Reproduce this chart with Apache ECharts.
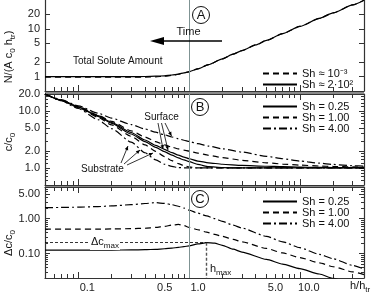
<!DOCTYPE html>
<html><head><meta charset="utf-8">
<script src="https://cdn.jsdelivr.net/npm/echarts@6/dist/echarts.min.js"></script>
<style>html,body{margin:0;padding:0;background:#fff}#c{width:374px;height:298px}</style>
</head><body><div id="c"></div>
<script>
// ---------- data ----------
const X_MIN = 0.05, X_MAX = 38;
const xMajorTicks = [0.1, 1, 10];
const xMinorTicks = [0.06,0.07,0.08,0.09,0.2,0.3,0.4,0.5,0.6,0.7,0.8,0.9,2,3,4,5,6,7,8,9,20,30];
const xLabelValues = [0.1, 0.5, 1, 5, 10];

const yALabels = [1, 2, 5, 10, 20];
const yBLabels = [1, 2, 5, 10, 20];
const yBMinor = [0.6,0.7,0.8,0.9,1.2,1.4,1.6,1.8,3,4,6,7,8,9,12,14,16,18];
const yCLabels = [0.1, 1, 5];
const yCMinor = [0.03,0.04,0.05,0.06,0.07,0.08,0.09,0.2,0.3,0.4,0.5,0.6,0.7,0.8,0.9,2,3,4,6,7,8];

// Panel A: total solute amount
const hA = [0.05,0.1,0.2,0.3,0.4,0.5,0.6,0.7,0.8,0.9,1.0,1.2,1.5,2,2.5,3,4,5,7,10,15,20,30,38];
const nA_low  = [0.97,0.97,0.97,0.975,0.98,0.99,1.02,1.06,1.12,1.19,1.26,1.45,1.78,2.35,2.95,3.5,4.6,5.7,7.9,11.2,16.5,21.5,31.5,39.5];
const nA_high = [1.0,1.0,1.0,1.0,1.005,1.02,1.04,1.08,1.13,1.2,1.27,1.45,1.78,2.35,2.95,3.5,4.6,5.7,7.9,11.2,16.5,21.5,31.5,39.5];

// Panel B: concentration, surface and substrate
const hB = [0.05,0.07,0.1,0.15,0.2,0.3,0.4,0.5,0.6,0.7,0.8,0.9,1.0,1.2,1.5,2,3,5,7,10,15,20,30,38];
const bSurf025 = [20,15.6,11.9,8.3,6.3,4.2,3.1,2.5,2.12,1.86,1.68,1.55,1.45,1.32,1.23,1.16,1.11,1.07,1.05,1.035,1.02,1.015,1.01,1.005];
const bSub025  = [20,15.5,11.7,8.1,6.1,3.95,2.9,2.3,1.93,1.68,1.5,1.38,1.29,1.15,1.05,1.01,1,1,1,1,1,1,1,1];
const bSurf100 = [20,15.7,12.0,8.5,6.6,4.5,3.5,2.9,2.55,2.32,2.16,2.05,1.97,1.82,1.67,1.52,1.36,1.23,1.17,1.12,1.08,1.06,1.04,1.03];
const bSub100  = [20,15.4,11.5,7.8,5.7,3.6,2.55,1.95,1.58,1.34,1.19,1.1,1.04,1.0,1,1,1,1,1,1,1,1,1,1];
const bSurf400 = [20,15.9,12.4,9.2,7.5,5.8,4.85,4.25,3.82,3.5,3.26,3.07,2.92,2.67,2.42,2.17,1.9,1.6,1.45,1.32,1.21,1.15,1.09,1.07];
const bSub400  = [20,15.2,11.1,7.1,4.9,2.85,1.85,1.38,1.16,1.06,1.015,1.0,1,1,1,1,1,1,1,1,1,1,1,1];

// Panel C: concentration difference
const hC = [0.05,0.07,0.1,0.15,0.2,0.3,0.4,0.5,0.6,0.7,0.8,0.9,1.0,1.2,1.44,1.7,2,2.5,3,5,7,10,15,20,30,38];
const cSh025 = [0.125,0.125,0.125,0.125,0.126,0.127,0.129,0.132,0.137,0.143,0.15,0.158,0.166,0.188,0.205,0.198,0.172,0.133,0.11,0.068,0.05,0.037,0.026,0.0195,0.0135,0.011];
const cSh100 = [0.5,0.5,0.5,0.5,0.505,0.515,0.53,0.56,0.6,0.65,0.68,0.63,0.56,0.48,0.41,0.355,0.31,0.255,0.217,0.14,0.104,0.077,0.054,0.042,0.03,0.025];
const cSh400 = [2.05,2.08,2.12,2.2,2.3,2.5,2.7,2.85,2.72,2.5,2.25,2.0,1.75,1.43,1.19,1.0,0.83,0.65,0.536,0.31,0.217,0.147,0.095,0.071,0.046,0.036];
const dcMaxPoint = [1.44, 0.205];

// ---------- styles ----------
const AX = '#333';
const FONT = 'Liberation Sans, Arial, sans-serif';
const SOLID = {type:'solid', width:1.2, color:'#000'};
const DASHED = {type:[6,4], width:1.2, color:'#000'};
const DASHDOT = {type:[8,3,2,3], width:1.2, color:'#000'};
const VLINE = {color:'#7f9393', width:1, type:'solid'};

const grids = [
  {left:45, top:0, width:319, height:91},
  {left:45, top:94, width:319, height:91},
  {left:45, top:187, width:319, height:91}
];

const fmtX = v => (Math.abs(v-0.1)<1e-9 ? '0.1' : (+v).toFixed(1));
const xAxes = [], yAxes = [];
const mainX = [], mainY = [];

function xAxisDef(gi, pos, ticks, len, showLine, labels) {
  return {
    type:'log', logBase:10, gridIndex:gi, position:pos, min:X_MIN, max:X_MAX,
    axisLine:{show:showLine, onZero:false, lineStyle:{color:AX, width:1.2}},
    axisTick:{show:true, inside:true, length:len, customValues:ticks, lineStyle:{color:AX, width:1}},
    axisLabel: labels ? {show:true, customValues:labels, formatter:fmtX, margin:4, fontSize:11, color:'#222', fontFamily:FONT, padding:[0,0,0,18]} : {show:false},
    splitLine:{show:false}, minorTick:{show:false}
  };
}
function yAxisDef(gi, pos, min, max, ticks, len, showLine, labels, fmt) {
  return {
    type:'log', logBase:10, gridIndex:gi, position:pos, min:min, max:max,
    axisLine:{show:showLine, onZero:false, lineStyle:{color:AX, width:1.2}},
    axisTick:{show:true, inside:true, length:len, customValues:ticks, lineStyle:{color:AX, width:1}},
    axisLabel: labels ? {show:true, customValues:labels, formatter:fmt, margin:5, fontSize:11, color:'#222', fontFamily:FONT} : {show:false},
    splitLine:{show:false}, minorTick:{show:false}
  };
}
const yRanges = [[0.5,40],[0.5,20],[0.02,8]];
const yLabs = [yALabels, yBLabels, yCLabels];
const yMin = [[], yBMinor, yCMinor];
const yFmt = [v=>String(+v), v=>(+v).toFixed(1), v=>(+v).toFixed(2)];
for (let g=0; g<3; g++) {
  mainX[g] = xAxes.length;
  xAxes.push(xAxisDef(g,'bottom',xMajorTicks,6,true, g===2 ? xLabelValues : null));
  xAxes.push(xAxisDef(g,'bottom',xMinorTicks,4,false,null));
  if (g>0) {
    xAxes.push(xAxisDef(g,'top',xMajorTicks,6,true,null));
    xAxes.push(xAxisDef(g,'top',xMinorTicks,4,false,null));
  }
  mainY[g] = yAxes.length;
  const [mn,mx] = yRanges[g];
  yAxes.push(yAxisDef(g,'left',mn,mx,yLabs[g],5,true,yLabs[g],yFmt[g]));
  yAxes.push(yAxisDef(g,'left',mn,mx,yMin[g],3,false,null));
  yAxes.push(yAxisDef(g,'right',mn,mx,yLabs[g],5,true,null));
  yAxes.push(yAxisDef(g,'right',mn,mx,yMin[g],3,false,null));
}

const zip = (xs, ys) => xs.map((x,i)=>[x, ys[i]]);
function line(name, g, xs, ys, style, extra) {
  return Object.assign({
    name, type:'line', xAxisIndex:mainX[g], yAxisIndex:mainY[g],
    data: zip(xs, ys), symbol:'none', smooth:0.2, smoothMonotone:'x',
    lineStyle: style, itemStyle:{color:'#000'}, clip:true, silent:true
  }, extra||{});
}
const vMark = {silent:true, symbol:'none', label:{show:false}, lineStyle:VLINE, data:[{xAxis:1}]};

const series = [
  line('Sh ≈ 10⁻³', 0, hA, nA_low, DASHED),
  line('Sh ≈ 2·10²', 0, hA, nA_high, SOLID, {markLine:vMark}),
  line('Sh = 0.25', 1, hB, bSurf025, SOLID, {markLine:vMark}),
  line('Sh = 0.25', 1, hB, bSub025, SOLID),
  line('Sh = 1.00', 1, hB, bSurf100, DASHED),
  line('Sh = 1.00', 1, hB, bSub100, DASHED),
  line('Sh = 4.00', 1, hB, bSurf400, DASHDOT),
  line('Sh = 4.00', 1, hB, bSub400, DASHDOT),
  line('Sh = 0.25', 2, hC, cSh025, SOLID, {markLine:{
    silent:true, symbol:'none', label:{show:false},
    data:[
      {xAxis:1, lineStyle:VLINE},
      [{coord:[X_MIN, dcMaxPoint[1]], lineStyle:{type:[3,2], width:0.8, color:'#000'}}, {coord:dcMaxPoint}],
      [{coord:dcMaxPoint, lineStyle:{type:[3,2], width:1.4, color:'#555'}}, {coord:[dcMaxPoint[0], 0.02]}]
    ]}}),
  line('Sh = 1.00', 2, hC, cSh100, DASHED),
  line('Sh = 4.00', 2, hC, cSh400, DASHDOT)
];

function legend(names, top) {
  return {
    data: names, left:262, top:top, orient:'vertical', itemWidth:34, itemHeight:8, itemGap:0, padding:0,
    selectedMode:false, icon:'inherit',
    itemStyle:{color:'transparent', borderColor:'transparent', borderWidth:0},
    textStyle:{fontSize:11, color:'#111', fontFamily:FONT, lineHeight:8, padding:[0,0,0,0]}
  };
}
const legends = [
  legend(['Sh ≈ 10⁻³','Sh ≈ 2·10²'], 68),
  legend(['Sh = 0.25','Sh = 1.00','Sh = 4.00'], 101),
  legend(['Sh = 0.25','Sh = 1.00','Sh = 4.00'], 196)
];

// ---------- annotations ----------
const gfx = [];
gfx.push({type:'rect', shape:{x:45,y:91,width:319,height:3}, style:{fill:'#8a8a8a'}, z:-1, silent:true});
gfx.push({type:'rect', shape:{x:45,y:185,width:319,height:2}, style:{fill:'#8a8a8a'}, z:-1, silent:true});
function txt(x,y,text,size,align,extra){
  return Object.assign({type:'text', x, y, silent:true, z:50, style:{text, font:size+'px '+FONT, fill:'#111', align:align||'center', verticalAlign:'middle'}}, extra||{});
}
function circ(cx,cy,letter){
  gfx.push({type:'circle', shape:{cx,cy,r:8.5}, style:{fill:'#fff', stroke:'#111', lineWidth:1}, z:49, silent:true});
  gfx.push(txt(cx,cy+0.5,letter,13,'center'));
}
circ(201,15,'A'); circ(200,107,'B'); circ(200,199,'C');
gfx.push(txt(188.5,32,'Time',11,'center'));
gfx.push({type:'line', shape:{x1:222,y1:41,x2:160,y2:41}, style:{stroke:'#000', lineWidth:1.5}, z:50, silent:true});
gfx.push({type:'polygon', shape:{points:[[150,41],[164,37],[164,45]]}, style:{fill:'#000'}, z:50, silent:true});
gfx.push(txt(73,61,'Total Solute Amount',10,'left'));
gfx.push(txt(161.5,117,'Surface',10,'center'));
gfx.push(txt(102.5,169.5,'Substrate',10,'center'));
function arrow(x1,y1,x2,y2){
  gfx.push({type:'line', shape:{x1,y1,x2,y2}, style:{stroke:'#000', lineWidth:0.8}, z:50, silent:true});
  const a = Math.atan2(y2-y1, x2-x1), L=4, W=1.8;
  const bx = x2 - L*Math.cos(a), by = y2 - L*Math.sin(a);
  gfx.push({type:'polygon', shape:{points:[[x2,y2],[bx - W*Math.sin(a), by + W*Math.cos(a)],[bx + W*Math.sin(a), by - W*Math.cos(a)]]}, style:{fill:'#000'}, z:50, silent:true});
}
arrow(158,123,163,149); arrow(161.5,123,168,150); arrow(165,123,171.5,136);
arrow(121,163,128,146); arrow(124,164,140,150); arrow(127,165,153,153);
const richSub = {
  m:{fontSize:11, fontFamily:FONT, lineHeight:14, verticalAlign:'top', fill:'#111'},
  s:{fontSize:8, fontFamily:FONT, lineHeight:8, verticalAlign:'bottom', fill:'#111'}
};
gfx.push({type:'text', x:90, y:243, z:50, silent:true, style:{text:'{m|Δc}{s|max}', rich:richSub, verticalAlign:'middle', align:'left', backgroundColor:'#fff', padding:[0,1,0,1]}});
gfx.push({type:'text', x:210, y:270, z:50, silent:true, style:{text:'{m|h}{s|max}', rich:richSub, verticalAlign:'middle', align:'left'}});
gfx.push({type:'text', x:350, y:287, z:50, silent:true, style:{text:'{m|h/h}{s|tr}', rich:richSub, verticalAlign:'middle', align:'left'}});
gfx.push({type:'text', x:10, y:57, rotation:Math.PI/2, z:50, silent:true, style:{text:'{m|N/(A c}{s|0}{m| h}{s|tr}{m|)}', rich:richSub, align:'center', verticalAlign:'middle'}});
gfx.push({type:'text', x:10, y:142, rotation:Math.PI/2, z:50, silent:true, style:{text:'{m|c/c}{s|0}', rich:richSub, align:'center', verticalAlign:'middle'}});
gfx.push({type:'text', x:10, y:243, rotation:Math.PI/2, z:50, silent:true, style:{text:'{m|Δc/c}{s|0}', rich:richSub, align:'center', verticalAlign:'middle'}});

const chart = echarts.init(document.getElementById('c'), null, {renderer:'canvas'});
chart.setOption({
  animation:false, backgroundColor:'#fff',
  textStyle:{fontFamily:FONT},
  grid:grids, xAxis:xAxes, yAxis:yAxes, legend:legends, series, graphic:gfx
});
</script></body></html>
